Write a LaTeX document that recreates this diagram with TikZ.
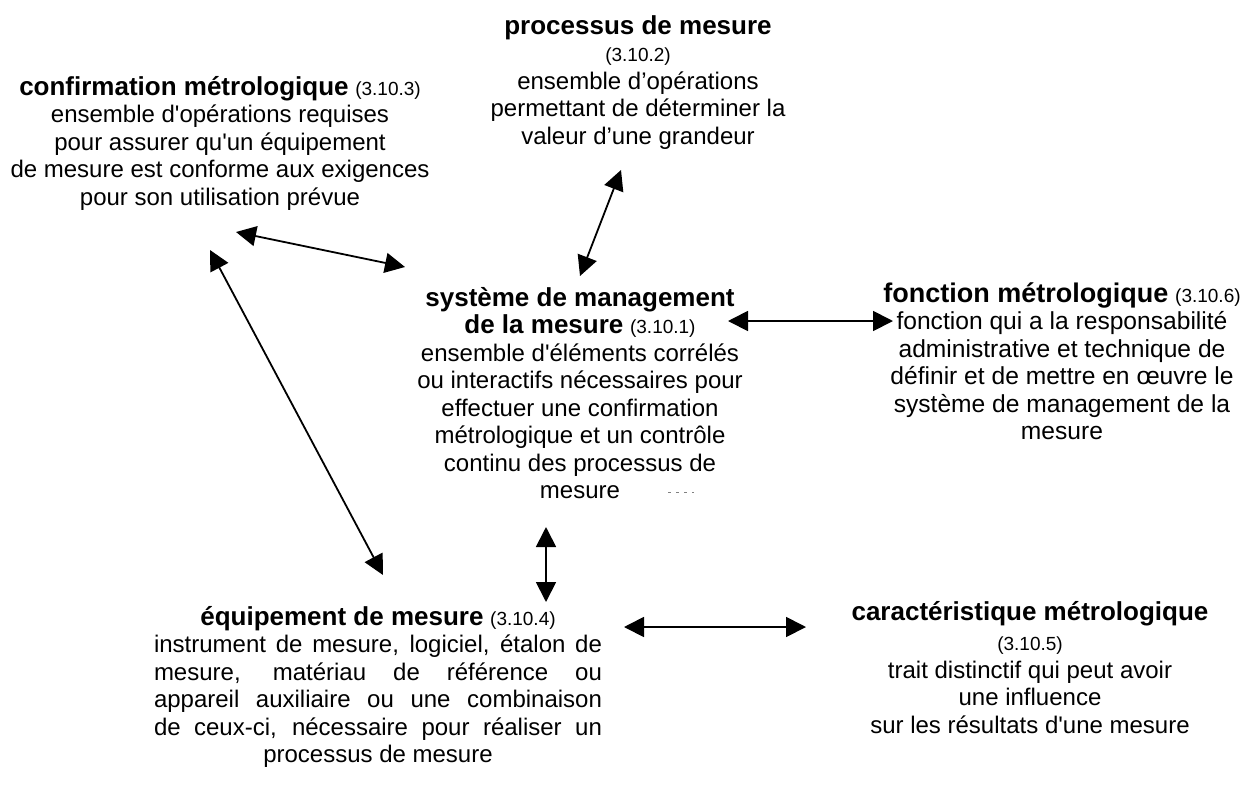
\documentclass[tikz,border=0pt]{standalone}
\usepackage{fontspec}
\setmainfont{Liberation Sans}[Ligatures=TeXOff]
\usetikzlibrary{arrows.meta}
\newcommand\bodysize{\fontsize{24}{27.5}\selectfont}
\newcommand\largebody{\fontsize{24.6}{27.5}\selectfont}
\newcommand\termname[1]{{\fontsize{26}{27.5}\selectfont\bfseries #1}}
\newcommand\bigtermname[1]{{\fontsize{27}{28}\selectfont\bfseries #1}}
\newcommand\clause[1]{{\fontsize{19}{27.5}\selectfont(#1)}}
\newlength\equipw
\setlength\equipw{448pt}
\newcommand\jline[1]{\makebox[\equipw][s]{#1}}
\tikzset{
  term/.style={align=center, inner sep=0pt, anchor=north, font=\bodysize},
  link/.style={{Triangle[length=20pt,width=20pt]}-{Triangle[length=20pt,width=20pt]}, line width=1.8pt}
}
\begin{document}
\begin{tikzpicture}[x=1pt, y=-1pt]
\useasboundingbox[fill=white] (0,0) rectangle (1245,796);

% definitions
\node[term] (proc) at (638,15) {\termname{processus de mesure}\\
  \clause{3.10.2}\\
  ensemble d’opérations\\
  permettant de déterminer la\\
  valeur d’une grandeur};
\node[term] (conf) at (220,76) {\termname{confirmation métrologique} \clause{3.10.3}\\
  ensemble d'opérations requises\\
  pour assurer qu'un équipement\\
  de mesure est conforme aux exigences\\
  pour son utilisation prévue};
\node[term] (sys) at (580,287) {\termname{système de management}\\
  \termname{de la mesure} \clause{3.10.1}\\
  ensemble d'éléments corrélés\\
  ou interactifs nécessaires pour\\
  effectuer une confirmation\\
  métrologique et un contrôle\\
  continu des processus de\\
  mesure};
\node[term, font=\largebody] (fonc) at (1062,282) {\bigtermname{fonction métrologique} \clause{3.10.6}\\
  fonction qui a la responsabilité\\
  administrative et technique de\\
  définir et de mettre en œuvre le\\
  système de management de la\\
  mesure};
\node[term] (equip) at (378,606) {\termname{équipement de mesure} \clause{3.10.4}\\
  \jline{instrument de mesure, logiciel, étalon de}\\
  \jline{mesure, matériau de référence ou}\\
  \jline{appareil auxiliaire ou une combinaison}\\
  \jline{de ceux-ci, nécessaire pour réaliser un}\\
  processus de mesure};
\node[term] (carac) at (1030,601) {\termname{caractéristique métrologique}\\[3pt]
  \clause{3.10.5}\\
  trait distinctif qui peut avoir\\
  une influence\\
  sur les résultats d'une mesure};

% arrow ends
\coordinate (conf-s) at (236,232);
\coordinate (sys-w) at (405,267);
\coordinate (proc-s) at (621,170);
\coordinate (sys-n) at (580,276);
\coordinate (sys-e) at (728,321);
\coordinate (fonc-w) at (893,321);
\coordinate (conf-sw) at (210,250);
\coordinate (equip-n) at (383,575);
\coordinate (sys-s) at (546,527);
\coordinate (equip-ne) at (546,602);
\coordinate (equip-e) at (624,627);
\coordinate (carac-w) at (806,627);

\draw[link] (conf-s) -- (sys-w);
\draw[link] (proc-s) -- (sys-n);
\draw[link] (sys-e) -- (fonc-w);
\draw[link] (conf-sw) -- (equip-n);
\draw[link] (sys-s) -- (equip-ne);
\draw[link] (equip-e) -- (carac-w);

% stray dashes after the last line
\draw[gray, line width=0.6pt, dash pattern=on 3pt off 5pt] (668,492) -- (694,492);
\end{tikzpicture}
\end{document}
